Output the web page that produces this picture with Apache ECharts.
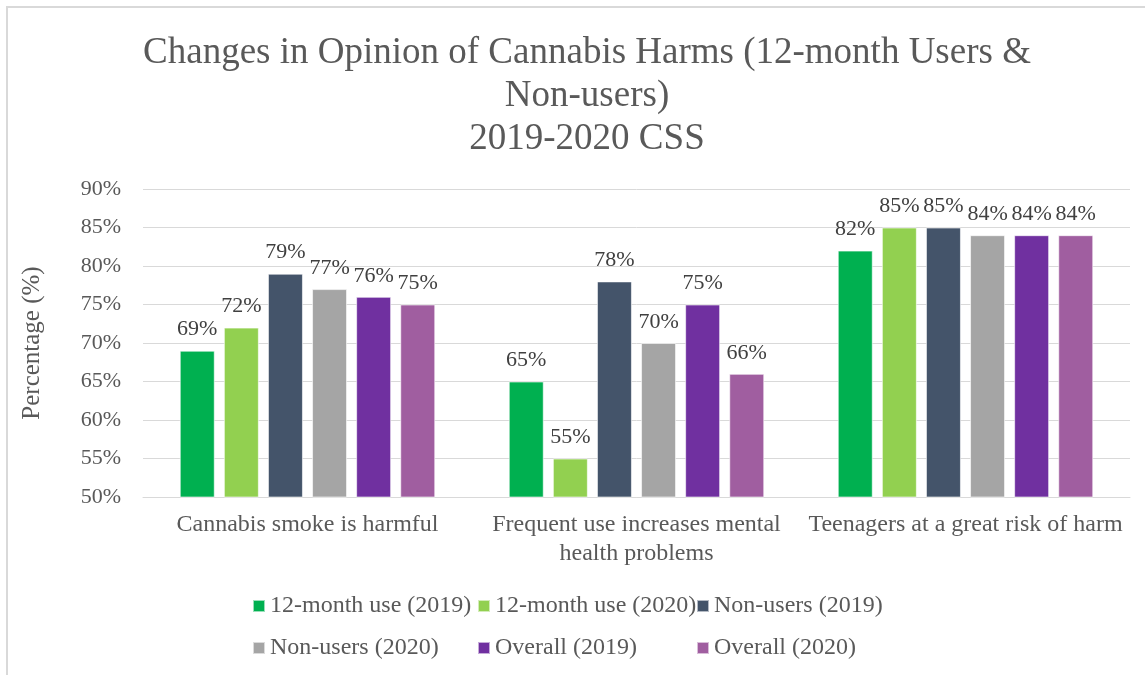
<!DOCTYPE html>
<html><head><meta charset="utf-8">
<script src="https://cdn.jsdelivr.net/npm/echarts@6/dist/echarts.min.js"></script>
<style>html,body{margin:0;padding:0;background:#fff}#c{width:1145px;height:675px}</style>
</head><body><div id="c"></div>
<script>
const categories = ['Cannabis smoke is harmful', 'Frequent use increases mental\nhealth problems', 'Teenagers at a great risk of harm'];
const seriesNames = ['12-month use (2019)', '12-month use (2020)', 'Non-users (2019)', 'Non-users (2020)', 'Overall (2019)', 'Overall (2020)'];
const use2019 = [69, 65, 82];
const use2020 = [72, 55, 85];
const non2019 = [79, 78, 85];
const non2020 = [77, 70, 84];
const all2019 = [76, 75, 84];
const all2020 = [75, 66, 84];
const seriesData = [use2019, use2020, non2019, non2020, all2019, all2020];
const colors = ['#00B050', '#92D050', '#44546A', '#A5A5A5', '#7030A0', '#A05EA0'];
const font = '"Liberation Serif", "Times New Roman", serif';

const chart = echarts.init(document.getElementById('c'));
const legendBase = {orient: 'vertical', top: 589, itemGap: 18, itemWidth: 12, itemHeight: 12, icon: 'rect',
  textStyle: {fontFamily: font, fontSize: 24, color: '#595959', padding: [0,0,0,0]}};
chart.setOption({
  backgroundColor: '#fff',
  color: colors,
  graphic: [{type: 'rect', shape: {x: 7, y: 7, width: 1200, height: 700}, style: {fill: 'none', stroke: '#D9D9D9', lineWidth: 2}, silent: true}],
  title: {
    text: 'Changes in Opinion of Cannabis Harms (12-month Users &\nNon-users)\n2019-2020 CSS',
    left: 582, top: 27, textAlign: 'center',
    textStyle: {fontFamily: font, fontSize: 37, fontWeight: 'normal', color: '#595959', lineHeight: 43}
  },
  legend: [
    Object.assign({}, legendBase, {left: 247, data: [seriesNames[0], seriesNames[3]]}),
    Object.assign({}, legendBase, {left: 472, data: [seriesNames[1], seriesNames[4]]}),
    Object.assign({}, legendBase, {left: 691, data: [seriesNames[2], seriesNames[5]]})
  ],
  grid: {left: 143, right: 15, top: 189, bottom: 178},
  xAxis: {
    type: 'category', data: categories,
    axisLine: {lineStyle: {color: '#D9D9D9', width: 1}},
    axisTick: {show: false},
    axisLabel: {fontFamily: font, fontSize: 24, color: '#595959', margin: 13, lineHeight: 29, interval: 0}
  },
  yAxis: {
    type: 'value', min: 50, max: 90, interval: 5,
    name: 'Percentage (%)', nameLocation: 'middle', nameGap: 98, nameRotate: 90,
    nameTextStyle: {fontFamily: font, fontSize: 25, color: '#595959'},
    axisLine: {show: false}, axisTick: {show: false},
    axisLabel: {fontFamily: font, fontSize: 22, color: '#595959', margin: 22, formatter: v => v + '%'},
    splitLine: {lineStyle: {color: '#D9D9D9', width: 1}}
  },
  series: seriesNames.map((n, i) => ({
    name: n, type: 'bar', data: seriesData[i], barWidth: 35, barGap: '26%',
    itemStyle: {borderColor: 'rgba(255,255,255,0.6)', borderWidth: 1},
    label: {show: true, position: 'top', distance: 10, formatter: p => p.value + '%',
      fontFamily: font, fontSize: 22, color: '#404040'}
  }))
});
</script></body></html>
